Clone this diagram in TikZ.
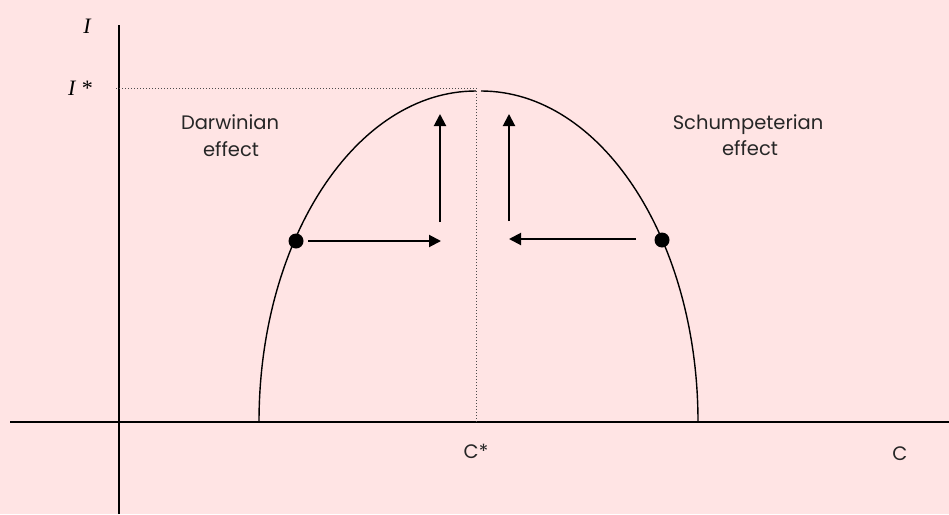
\documentclass[tikz,border=0pt]{standalone}
\usepackage{fontspec}
\setmainfont{Poppins}
\newfontfamily\serifit{Liberation Serif}
\usetikzlibrary{arrows.meta}
\definecolor{bgpink}{RGB}{255,228,228}
\begin{document}
\begin{tikzpicture}[x=1pt,y=-1pt,
  axis/.style={line width=1.5pt,black},
  curve/.style={line width=1.4pt,black},
  dotline/.style={line width=1pt,black!70,dash pattern=on 1pt off 2pt},
  arr/.style={line width=2pt,black,-{Triangle[length=12pt,width=12pt]}},
  dotnode/.style={circle,fill=black,minimum size=15pt,inner sep=0pt},
  lab/.style={font=\fontsize{19.5}{24}\selectfont,text=black!85,anchor=base,inner sep=0pt},
  ital/.style={font=\fontsize{22}{26}\selectfont\serifit\itshape,inner sep=0pt}]
\fill[bgpink] (0,0) rectangle (949,514);
\useasboundingbox (0,0) rectangle (949,514);
% axes
\coordinate (yb) at (119,514);
\coordinate (yt) at (119,25);
\coordinate (xl) at (10,422);
\coordinate (xr) at (949,422);
\draw[axis] (yb) -- (yt);
\draw[axis] (xl) -- (xr);
% dotted guides
\coordinate (gl) at (116,88);
\coordinate (gc) at (477,88);
\coordinate (gb) at (476,422);
\draw[dotline] (gl) -- (gc);
\draw[dotline] (476,88) -- (gb);
% curve
\coordinate (lf) at (259,422);
\coordinate (rp) at (481,91);
\draw[curve] (lf) arc[start angle=180,end angle=270,x radius=217,y radius=331];
\draw[curve] (rp) arc[start angle=270,end angle=360,x radius=217,y radius=331];
% dots
\node[dotnode] (d1) at (296,241) {};
\node[dotnode] (d2) at (662,240) {};
% arrows
\coordinate (a1s) at (308,241);
\coordinate (a1e) at (441,241);
\coordinate (a2s) at (440,222);
\coordinate (a2e) at (440,114);
\coordinate (a3s) at (636,239);
\coordinate (a3e) at (509,239);
\coordinate (a4s) at (509,221);
\coordinate (a4e) at (509,114);
\draw[arr] (a1s) -- (a1e);
\draw[arr] (a2s) -- (a2e);
\draw[arr] (a3s) -- (a3e);
\draw[arr] (a4s) -- (a4e);
% labels
\node[ital] (il) at (87,26) {I};
\node[ital] (isl) at (80,88) {I *};
\node[lab] (dw1) at (230,129) {Darwinian};
\node[lab] (dw2) at (231,156) {effect};
\node[lab] (sc1) at (748,129) {Schumpeterian};
\node[lab] (sc2) at (750,155) {effect};
\node[lab] (cs) at (476,458) {C*};
\node[lab] (cl) at (900,460) {C};
\end{tikzpicture}
\end{document}
